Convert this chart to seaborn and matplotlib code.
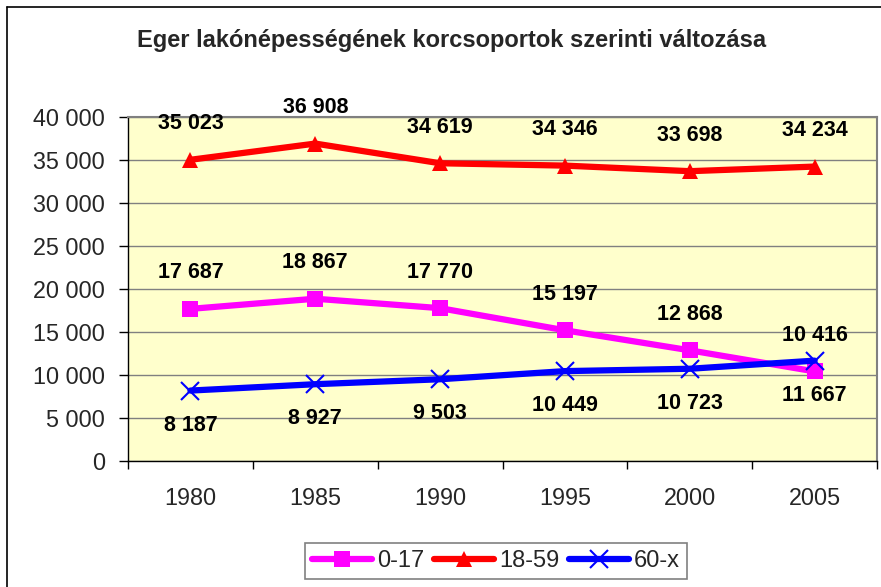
import matplotlib
matplotlib.use("Agg")
import matplotlib.pyplot as plt
from matplotlib.lines import Line2D
from matplotlib.ticker import FixedLocator, FuncFormatter
import seaborn as sns
import pandas as pd

# Eger population by age group
years = ["1980", "1985", "1990", "1995", "2000", "2005"]
age_0_17 = [17687, 18867, 17770, 15197, 12868, 10416]
age_18_59 = [35023, 36908, 34619, 34346, 33698, 34234]
age_60_x = [8187, 8927, 9503, 10449, 10723, 11667]

sns.set_theme(style="white")
plt.rcParams["font.family"] = ["Liberation Sans", "DejaVu Sans"]


def fmt_thousands(v):
    return f"{int(v):,}".replace(",", " ")


fig = plt.figure(figsize=(8.81, 5.87), dpi=100)
ax = fig.add_axes([0.1453, 0.2147, 0.8502, 0.586])
ax.set_facecolor("#FFFFCC")

pos = list(range(len(years)))
series = [
    ("0-17", age_0_17, "#FF00FF", "s", 26),
    ("18-59", age_18_59, "#FF0000", "^", 26),
    ("60-x", age_60_x, "#0000FF", "x", -25),
]
for name, vals, col, mk, off in series:
    df = pd.DataFrame({"x": pos, "y": vals})
    sns.lineplot(data=df, x="x", y="y", ax=ax, color=col, lw=4.5,
                 marker=mk, markersize=12 if mk != "x" else 13,
                 markeredgewidth=1.5 if mk == "x" else 0,
                 markeredgecolor=col, markerfacecolor=col, label=name)
    for xi, v in zip(pos, vals):
        ax.annotate(fmt_thousands(v), (xi, v), xytext=(0, off),
                    textcoords="offset points", ha="center", va="center",
                    fontsize=15.5, fontweight="bold", color="black")

ax.set_xlim(-0.5, len(years) - 0.5)
ax.set_ylim(0, 40000)
ax.yaxis.set_major_locator(FixedLocator(range(0, 40001, 5000)))
ax.yaxis.set_major_formatter(FuncFormatter(lambda v, p: fmt_thousands(v)))
ax.set_xticks(pos)
ax.set_xticklabels(years)
ax.xaxis.set_minor_locator(FixedLocator([p - 0.5 for p in pos] + [len(years) - 0.5]))
ax.tick_params(axis="x", which="major", length=0, pad=19, labelsize=16.8)
ax.tick_params(axis="x", which="minor", length=6, color="black", width=1, bottom=True)
ax.tick_params(axis="y", length=6.5, color="black", width=1, left=True, labelsize=16.8, pad=10)
ax.grid(axis="y", color="#808080", lw=1)
ax.set_axisbelow(True)
ax.set_xlabel("")
ax.set_ylabel("")
for side in ["top", "right"]:
    ax.spines[side].set_color("#808080")
    ax.spines[side].set_linewidth(1.5)
for side in ["left", "bottom"]:
    ax.spines[side].set_color("black")
    ax.spines[side].set_linewidth(1)

fig.text(452 / 881, 1 - 40 / 587, "Eger lakónépességének korcsoportok szerinti változása",
         ha="center", va="center", fontsize=17, fontweight="bold")

ax.legend_.remove()
handles, labels = ax.get_legend_handles_labels()
leg = fig.legend(handles, labels, loc="upper left", bbox_to_anchor=(305 / 881, 1 - 543 / 587),
                 ncol=3, frameon=True, fancybox=False, fontsize=17, handlelength=2.55,
                 handletextpad=0.2, columnspacing=0.42, borderpad=0.3, borderaxespad=0)
leg.get_frame().set_edgecolor("#606060")
leg.get_frame().set_linewidth(1.2)

# outer chart frame
fig.add_artist(Line2D([7 / 881, 1], [1 - 7 / 587, 1 - 7 / 587], color="black", lw=1.2))
fig.add_artist(Line2D([7 / 881, 7 / 881], [0, 1 - 7 / 587], color="black", lw=1.2))

fig.savefig("out.png", dpi=100)
